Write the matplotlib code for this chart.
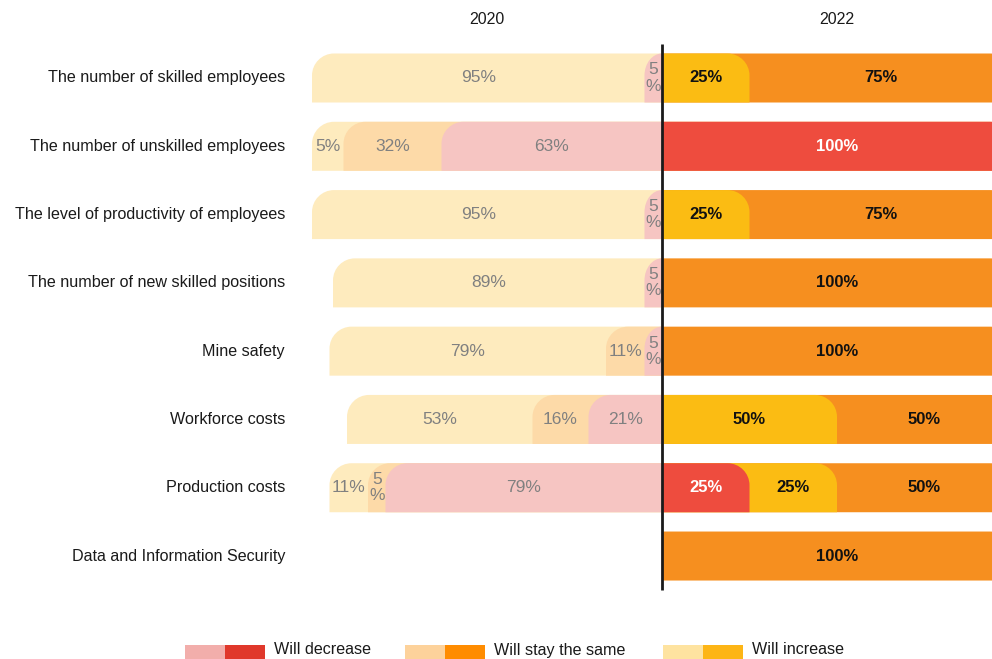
import matplotlib
matplotlib.use("Agg")
import matplotlib.pyplot as plt
from matplotlib.path import Path
from matplotlib.patches import PathPatch, Rectangle

plt.rcParams['font.family'] = ['Liberation Sans', 'DejaVu Sans']

# ---------------- data ----------------
categories = [
    "The number of skilled employees",
    "The number of unskilled employees",
    "The level of productivity of employees",
    "The number of new skilled positions",
    "Mine safety",
    "Workforce costs",
    "Production costs",
    "Data and Information Security",
]
years = ["2020", "2022"]

# 2020 (drawn to the left, from centre outward: decrease, same, increase)
dec_2020 = [5, 63, 5, 5, 5, 21, 79, 0]
same_2020 = [0, 28, 0, 0, 11, 16, 5, 0]
inc_2020 = [95, 9, 95, 89, 79, 53, 11, 0]
dec_2020_lbl = ["5%", "63%", "5%", "5%", "5%", "21%", "79%", ""]
same_2020_lbl = ["", "32%", "", "", "11%", "16%", "5%", ""]
inc_2020_lbl = ["95%", "5%", "95%", "89%", "79%", "53%", "11%", ""]

# 2022 (drawn to the right, from centre outward: decrease, increase, same)
dec_2022 = [0, 100, 0, 0, 0, 0, 25, 0]
inc_2022 = [25, 0, 25, 0, 0, 50, 25, 0]
same_2022 = [75, 0, 75, 100, 100, 50, 50, 100]

legend_labels = ["Will decrease", "Will stay the same", "Will increase"]

# ---------------- style ----------------
W, H = 992, 659
C_L = {"dec": "#F6C5C2", "same": "#FDDAA8", "inc": "#FEEBBE"}
C_R = {"dec": "#EE4C3E", "same": "#F68F1F", "inc": "#FBBC13"}
LEG = [("#F2AEAB", "#E0382B"), ("#FDD29B", "#FF8C00"), ("#FEE3A0", "#FDB515")]

fig = plt.figure(figsize=(W / 100, H / 100), dpi=100)
ax_left_px = 312
ax = fig.add_axes([ax_left_px / W, 0, (W - ax_left_px) / W, 1])
px_per_pct = 3.5
ax.set_xlim(-100, (W - ax_left_px) / px_per_pct - 100)
row0_px, row_step = 78, 68.29
ax.set_ylim((H - row0_px) / row_step, -row0_px / row_step)
ax.axis("off")

bar_h = 49 / row_step
rad_px = 22
rx_unit = rad_px / px_per_pct
ry_unit = rad_px / row_step
K = 0.5523


def rounded_bar(xo, row, color, z):
    """Bar from 0 to xo with the outer-top corner rounded."""
    if xo == 0:
        return
    sx = 1 if xo > 0 else -1
    yt = row - bar_h / 2
    yb = row + bar_h / 2
    rx = min(rx_unit, abs(xo))
    ry = ry_unit
    verts = [
        (0, yb), (xo, yb), (xo, yt + ry),
        (xo, yt + ry * (1 - K)), (xo - sx * rx * (1 - K), yt), (xo - sx * rx, yt),
        (0, yt), (0, yb),
    ]
    codes = [Path.MOVETO, Path.LINETO, Path.LINETO,
             Path.CURVE4, Path.CURVE4, Path.CURVE4,
             Path.LINETO, Path.CLOSEPOLY]
    ax.add_patch(PathPatch(Path(verts, codes), facecolor=color,
                           edgecolor="none", zorder=z, clip_on=True))


for i in range(len(categories)):
    # left side 2020
    d, s, n = dec_2020[i], same_2020[i], inc_2020[i]
    rounded_bar(-(d + s + n), i, C_L["inc"], 1)
    if s > 0:
        rounded_bar(-(d + s), i, C_L["same"], 2)
    rounded_bar(-d, i, C_L["dec"], 3)
    segs = [(0, d, dec_2020_lbl[i]), (d, d + s, same_2020_lbl[i]),
            (d + s, d + s + n, inc_2020_lbl[i])]
    for a, b, lbl in segs:
        if b - a <= 0 or not lbl:
            continue
        txt = lbl.replace("%", "\n%") if (b - a) < 7 else lbl
        ax.text(-(a + b) / 2, i, txt, ha="center", va="center",
                fontsize=12.5, color="#808080", linespacing=1.1, zorder=5)

    # right side 2022
    d2, n2, s2 = dec_2022[i], inc_2022[i], same_2022[i]
    rounded_bar(d2 + n2 + s2, i, C_R["same"], 1)
    if n2 > 0:
        rounded_bar(d2 + n2, i, C_R["inc"], 2)
    if d2 > 0:
        rounded_bar(d2, i, C_R["dec"], 3)
    segs = [(0, d2, "white"), (d2, d2 + n2, "#111111"),
            (d2 + n2, d2 + n2 + s2, "#111111")]
    for a, b, col in segs:
        if b - a <= 0:
            continue
        ax.text((a + b) / 2, i, f"{b - a}%", ha="center", va="center",
                fontsize=12, color=col, fontweight="bold", zorder=5)

    # category label
    ax.annotate(categories[i], xy=(-100, i), xytext=(-27 * 0.72, 0),
                textcoords="offset points", ha="right", va="center",
                fontsize=11.6, color="#1a1a1a", annotation_clip=False)

# centre line
ax.vlines(0, -0.5, len(categories) - 0.5, color="#1a1a1a", lw=2, zorder=6)

# year headers
ax.text(-50, (20 - row0_px) / row_step, years[0], ha="center", va="center",
        fontsize=11.5, color="#1a1a1a")
ax.text(50, (20 - row0_px) / row_step, years[1], ha="center", va="center",
        fontsize=11.5, color="#1a1a1a")

# legend (drawn at the bottom of the figure)
leg_x = [185, 405, 663]
for (pc, sc), lbl, x0 in zip(LEG, legend_labels, leg_x):
    for k, c in enumerate((pc, sc)):
        fig.patches.append(Rectangle(((x0 + 40 * k) / W, 1 - 661 / H), 40 / W, 16 / H,
                                     transform=fig.transFigure, facecolor=c,
                                     edgecolor="none"))
    fig.text((x0 + 89) / W, 1 - 654.5 / H, lbl, ha="left", va="baseline",
             fontsize=11.6, color="#1a1a1a")

fig.savefig("out.png", dpi=100)
